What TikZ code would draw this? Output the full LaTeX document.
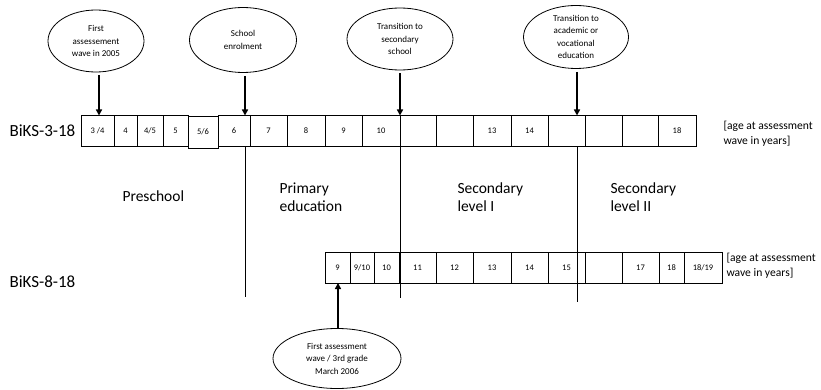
\documentclass[tikz,border=0pt]{standalone}
\usepackage{fontspec}
\setmainfont{Carlito}
\usetikzlibrary{arrows.meta,shapes.geometric}
\begin{document}
\begin{tikzpicture}[x=1pt,y=-1pt,
 cell/.style={draw, line width=0.8pt, minimum height=31pt, inner sep=0pt, outer sep=0pt, font=\fontsize{8.5}{9}\selectfont},
 oval/.style={draw, ellipse, line width=0.8pt, inner sep=0pt, align=center, font=\fontsize{9}{12.5}\selectfont},
 arr/.style={line width=1.8pt, -{Triangle[length=6pt,width=6pt]}},
 vline/.style={line width=0.8pt},
 stage/.style={align=left, anchor=west, font=\fontsize{15.5}{18}\selectfont},
 study/.style={font=\fontsize{17}{20}\selectfont, anchor=west},
 note/.style={align=left, anchor=west, font=\fontsize{11.6}{15}\selectfont}
]
\useasboundingbox (0,0) rectangle (821,390);

% top row
\foreach \xa/\xb/\t [count=\i] in {81/114/{3 /4},114/137/4,137/163/{4/5},163/188/5}
  \node[cell, minimum width={\xb-\xa}] (t\i) at ({(\xa+\xb)/2},131) {\t};
\node[cell, minimum width=30, minimum height=32] (t5) at (203,132) {5/6};
\foreach \xa/\xb/\t [count=\i from 6] in {218/250/6,250/287/7,287/325/8,325/362/9,362/400/10,400/436/{},436/473/{},473/511/13,511/548/14,548/585/{},585/622/{},622/658/{},658/696/18}
  \node[cell, minimum width={\xb-\xa}] (t\i) at ({(\xa+\xb)/2},131) {\t};

% bottom row
\foreach \xa/\xb/\t [count=\i] in {325/350/9,350/374/{9/10},374/399/10,399/436/11,436/473/12,473/511/13,511/548/14,548/585/15,585/622/{},622/659/17,659/684/18,684/722/{18/19}}
  \node[cell, minimum width={\xb-\xa}] (b\i) at ({(\xa+\xb)/2},267.5) {\t};

% ellipses
\node[oval, minimum width=96pt, minimum height=62pt] (e1) at (96,41) {First\\assessement\\wave in 2005};
\node[oval, minimum width=107pt, minimum height=65pt] (e2) at (243,40) {School\\enrolment};
\node[oval, minimum width=106pt, minimum height=62pt] (e3) at (400,39) {Transition to\\secondary\\school};
\node[oval, minimum width=105pt, minimum height=63pt] (e4) at (576,37) {Transition to\\academic or\\vocational\\education};
\node[oval, minimum width=128pt, minimum height=60pt] (e5) at (337,358.5) {First assessment\\wave / 3rd grade\\March 2006};

% arrow targets and divider lines
\coordinate (a1) at (99,115.5);
\coordinate (a2) at (245,115.5);
\coordinate (a3) at (400,115.5);
\coordinate (a4) at (577,115.5);
\coordinate (a5) at (338,283);
\coordinate (v1a) at (245,146.5); \coordinate (v1b) at (245,297);
\coordinate (v2a) at (400,146.5); \coordinate (v2b) at (400,298);
\coordinate (v3a) at (577,146.5); \coordinate (v3b) at (577,302);

\draw[arr, shorten <=3pt] (e1.south -| a1) -- (a1);
\draw[arr, shorten <=3pt] (e2.south -| a2) -- (a2);
\draw[arr, shorten <=3pt] (e3.south -| a3) -- (a3);
\draw[arr, shorten <=3pt] (e4.south -| a4) -- (a4);
\draw[arr] (e5.north -| a5) -- (a5);

\draw[vline] (v1a) -- (v1b);
\draw[vline] (v2a) -- (v2b);
\draw[vline] (v3a) -- (v3b);

% labels
\node[study] (s1) at (6,131) {BiKS-3-18};
\node[study] (s2) at (6,282) {BiKS-8-18};
\node[note] (n1) at (720,134) {[age at assessment\\wave in years]};
\node[note] (n2) at (723,265.5) {[age at assessment\\wave in years]};

\node[stage] (p0) at (119,196) {Preschool};
\node[stage] (p1) at (276,197) {Primary\\education};
\node[stage] (p2) at (454,197) {Secondary\\level I};
\node[stage] (p3) at (607,197) {Secondary\\level II};
\end{tikzpicture}
\end{document}
